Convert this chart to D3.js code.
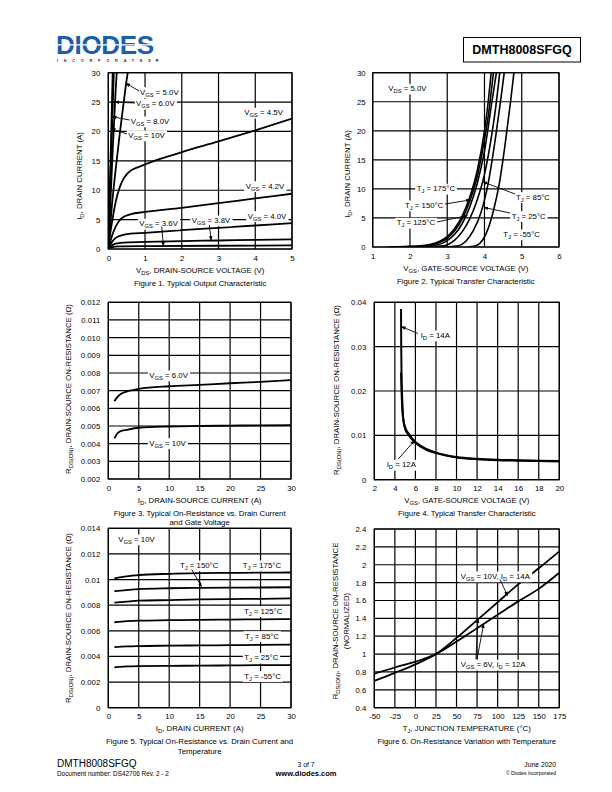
<!DOCTYPE html>
<html><head><meta charset="utf-8">
<script src="https://cdn.jsdelivr.net/npm/d3@7/dist/d3.min.js"></script>
<style>body{margin:0;background:#fff}</style>
</head><body>
<svg id="c" width="612" height="792" xmlns="http://www.w3.org/2000/svg"></svg>
<script>
// ---------------- DATA ----------------
// Figure 1: Output characteristic  (VDS [V], ID [A])
const f1Ticks_x = [0,1,2,3,4,5];
const f1Ticks_y = [0,5,10,15,20,25,30];
const f1_vgs10 = [[0,0],[0.06,15],[0.12,30]];
const f1_vgs8  = [[0,0],[0.075,15],[0.15,30]];
const f1_vgs6  = [[0,0],[0.1,14],[0.2,27],[0.23,30]];
const f1_vgs5  = [[0,0],[0.1,7.5],[0.2,13.5],[0.3,19],[0.4,24],[0.5,28.8],[0.53,30]];
const f1_vgs45 = [[0,0],[0.05,2.5],[0.1,4.5],[0.2,8],[0.3,10.3],[0.4,11.8],[0.5,12.7],[0.6,13.3],[0.8,13.9],[1,14.4],[1.5,15.5],[2,16.5],[3,18.3],[4,20.2],[5,22.2]];
const f1_vgs42 = [[0,0],[0.1,2.2],[0.2,3.8],[0.3,4.8],[0.4,5.4],[0.6,5.9],[1,6.3],[2,7.0],[3,7.8],[4,8.6],[5,9.4]];
const f1_vgs40 = [[0,0],[0.1,1.2],[0.2,1.9],[0.4,2.4],[0.6,2.6],[1,2.75],[2,3.2],[3,3.6],[4,4.0],[5,4.4]];
const f1_vgs38 = [[0,0],[0.1,0.6],[0.2,0.9],[0.4,1.1],[1,1.2],[2,1.35],[3,1.45],[4,1.55],[5,1.65]];
const f1_vgs36 = [[0,0],[0.1,0.3],[0.3,0.45],[1,0.5],[3,0.55],[5,0.6]];

// Figure 2: Transfer characteristic (VGS [V], ID [A])
const f2Ticks_x = [1,2,3,4,5,6];
const f2Ticks_y = [0,5,10,15,20,25,30];
const f2_t175 = [[1.4,0.02],[2.0,0.1],[2.5,0.4],[2.8,1],[3.0,1.8],[3.2,3.2],[3.4,5.3],[3.6,8.5],[3.8,13],[4.0,20],[4.1,25],[4.18,30]];
const f2_t150 = [[1.8,0.02],[2.4,0.2],[2.8,0.8],[3.0,1.5],[3.2,2.8],[3.4,4.8],[3.6,7.8],[3.8,12],[4.0,18.5],[4.1,22.5],[4.24,30]];
const f2_t125 = [[2.2,0.02],[2.6,0.2],[3.0,1.1],[3.2,2.2],[3.4,4],[3.6,6.8],[3.8,10.8],[4.0,16.5],[4.2,25],[4.32,30]];
const f2_t85  = [[2.5,0.02],[2.9,0.2],[3.2,1.2],[3.4,2.6],[3.6,4.8],[3.8,8],[4.0,12.5],[4.2,19.5],[4.3,24],[4.41,30]];
const f2_t25  = [[3.0,0.02],[3.3,0.2],[3.5,1],[3.7,2.8],[3.9,5.8],[4.1,11],[4.3,19],[4.45,26],[4.53,30]];
const f2_tm55 = [[3.6,0.02],[3.8,0.3],[3.95,1.2],[4.1,3.2],[4.25,6.5],[4.4,11],[4.55,17.5],[4.7,25],[4.79,30]];

// Figure 3: RDS(on) vs ID and VGS
const f3Ticks_x = [0,5,10,15,20,25,30];
const f3Ticks_y = [0.002,0.003,0.004,0.005,0.006,0.007,0.008,0.009,0.010,0.011,0.012];
const f3_vgs6  = [[1,0.0064],[1.5,0.00665],[2,0.0068],[3,0.00695],[4,0.00703],[5,0.0071],[10,0.00725],[15,0.00733],[20,0.00742],[25,0.0075],[30,0.0076]];
const f3_vgs10 = [[1,0.0043],[1.5,0.00458],[2,0.0047],[3,0.00478],[5,0.0049],[10,0.00497],[15,0.005],[20,0.00502],[25,0.00504],[30,0.00505]];

// Figure 4: RDS(on) vs VGS
const f4Ticks_x = [2,4,6,8,10,12,14,16,18,20];
const f4Ticks_y = [0,0.01,0.02,0.03,0.04];
const f4_id14 = [[4.6,0.0385],[4.62,0.03],[4.65,0.024],[4.72,0.018],[4.82,0.0138],[5.0,0.0118],[5.3,0.0105],[6,0.0085],[7,0.007],[8,0.0061],[9,0.0055],[10,0.0051],[12,0.0047],[14,0.0045],[16,0.0044],[18,0.0043],[20,0.0042]];
const f4_id12 = [[4.6,0.0242],[4.65,0.02],[4.72,0.016],[4.82,0.0135],[5.0,0.0115],[5.3,0.0102],[6,0.0083],[7,0.0068],[8,0.006],[10,0.005],[12,0.0046],[14,0.0044],[16,0.0043],[18,0.0042],[20,0.0041]];

// Figure 5: RDS(on) vs ID and temperature
const f5Ticks_x = [0,5,10,15,20,25,30];
const f5Ticks_y = [0,0.002,0.004,0.006,0.008,0.01,0.012,0.014];
const f5_t175 = [[1,0.0101],[3,0.01025],[5,0.01035],[10,0.01045],[15,0.0105],[20,0.01052],[25,0.01054],[30,0.01055]];
const f5_t150 = [[1,0.0091],[3,0.00918],[5,0.00925],[10,0.00932],[15,0.00935],[20,0.00937],[25,0.00938],[30,0.0094]];
const f5_t125 = [[1,0.0082],[3,0.00828],[5,0.00835],[10,0.0084],[15,0.00845],[20,0.00848],[25,0.0085],[30,0.00853]];
const f5_t85  = [[1,0.00667],[3,0.00675],[5,0.0068],[10,0.00683],[15,0.00686],[20,0.00688],[25,0.0069],[30,0.00692]];
const f5_t25  = [[1,0.00472],[3,0.00478],[5,0.00481],[10,0.00484],[15,0.00486],[20,0.00488],[25,0.0049],[30,0.00492]];
const f5_tm55 = [[1,0.00315],[3,0.00322],[5,0.00325],[10,0.00327],[15,0.00328],[20,0.0033],[25,0.00332],[30,0.00333]];

// Figure 6: normalized RDS(on) vs TJ
const f6Ticks_x = [-50,-25,0,25,50,75,100,125,150,175];
const f6Ticks_y = [0.4,0.6,0.8,1,1.2,1.4,1.6,1.8,2,2.2,2.4];
const f6_vgs10 = [[-50,0.7],[-25,0.79],[0,0.885],[25,1.0],[50,1.18],[75,1.38],[100,1.58],[125,1.78],[150,1.96],[175,2.15]];
const f6_vgs6  = [[-50,0.78],[-25,0.85],[0,0.915],[25,1.0],[50,1.14],[75,1.29],[100,1.44],[125,1.59],[150,1.73],[175,1.91]];

// ---------------- DRAWING ----------------
const FONT = "'Liberation Sans', Arial, Helvetica, sans-serif";
const FS = 7.8;
const svg = d3.select("#c").attr("font-family", FONT);
const defs = svg.append("defs");
defs.append("marker").attr("id","arr").attr("viewBox","0 0 10 10").attr("refX",9).attr("refY",5)
  .attr("markerWidth",5).attr("markerHeight",5).attr("orient","auto-start-reverse")
  .append("path").attr("d","M0,1 L10,5 L0,9 z").attr("fill","#000");

function rich(t, str, size) {
  const parts = str.split(/(_\{[^}]*\})/).filter(p => p.length);
  let shifted = false;
  parts.forEach(p => {
    const m = p.match(/^_\{([^}]*)\}$/);
    if (m) {
      t.append("tspan").attr("font-size", size*0.75).attr("dy", size*0.28).text(m[1]);
      shifted = true;
    } else {
      const ts = t.append("tspan").text(p);
      if (shifted) { ts.attr("dy", -size*0.28); shifted = false; }
    }
  });
  return t;
}

let clipN = 0;
function panel(o) {
  const x = d3.scaleLinear().domain(o.xd).range([o.l, o.r]);
  const y = d3.scaleLinear().domain(o.yd).range([o.b, o.t]);
  const g = svg.append("g");
  const id = "clip" + (clipN++);
  defs.append("clipPath").attr("id", id).append("rect")
    .attr("x", o.l).attr("y", o.t).attr("width", o.r - o.l).attr("height", o.b - o.t);
  g.append("g").selectAll("line").data(o.xt).join("line")
    .attr("x1", d => x(d)).attr("x2", d => x(d)).attr("y1", o.t).attr("y2", o.b)
    .attr("stroke", "#000").attr("stroke-width", 1.2);
  g.append("g").selectAll("line").data(o.yt).join("line")
    .attr("y1", d => y(d)).attr("y2", d => y(d)).attr("x1", o.l).attr("x2", o.r)
    .attr("stroke", "#000").attr("stroke-width", 1.2);
  g.append("rect").attr("x", o.l).attr("y", o.t).attr("width", o.r - o.l).attr("height", o.b - o.t)
    .attr("fill", "none").attr("stroke", "#000").attr("stroke-width", 1.2);
  const ax = g.append("g").attr("transform", `translate(0,${o.b})`)
    .call(d3.axisBottom(x).tickValues(o.xt).tickSize(0).tickPadding(6).tickFormat(o.xf || (d => d)));
  ax.select(".domain").remove();
  ax.selectAll("text").attr("font-size", FS).attr("font-family", FONT);
  const ay = g.append("g").attr("transform", `translate(${o.l},0)`)
    .call(d3.axisLeft(y).tickValues(o.yt).tickSize(0).tickPadding(o.yp || 8).tickFormat(o.yf || (d => d)));
  ay.select(".domain").remove();
  ay.selectAll("text").attr("font-size", FS).attr("font-family", FONT);
  rich(g.append("text").attr("x", (o.l + o.r) / 2).attr("y", o.b + 23.5).attr("text-anchor", "middle").attr("font-size", FS), o.xtitle, FS);
  o.ytitle.forEach((s, i) => {
    const cx = o.ytx[i], cy = o.yty;
    rich(g.append("text").attr("transform", `translate(${cx},${cy}) rotate(-90)`).attr("text-anchor", "middle").attr("font-size", FS), s, FS);
  });
  o.caption.forEach((s, i) => {
    g.append("text").attr("x", (o.l + o.r) / 2).attr("y", o.b + 36.5 + i * 9.5).attr("text-anchor", "middle")
      .attr("font-size", FS).text(s);
  });
  const plot = g.append("g").attr("clip-path", `url(#${id})`);
  const line = d3.line().x(d => x(d[0])).y(d => y(d[1])).curve(d3.curveMonotoneX);
  return { x, y, g, plot, line };
}

function curves(p, arr, w, color) {
  p.plot.selectAll(null).data(arr).join("path")
    .attr("d", d => p.line(d)).attr("fill", "none").attr("stroke", color || "#000")
    .attr("stroke-width", w || 1.8).attr("stroke-linejoin", "round");
}

function label(p, x, y, str, bg = true) {
  const t = p.g.append("text").attr("x", x).attr("y", y + 2.8).attr("font-size", FS);
  rich(t, str, FS);
  if (bg) {
    const bb = t.node().getBBox();
    p.g.insert("rect", () => t.node()).attr("x", bb.x - 1.5).attr("y", bb.y - 0.3)
      .attr("width", bb.width + 3).attr("height", bb.height + 0.6).attr("fill", "#fff");
  }
  return t;
}
function arrow(p, x1, y1, x2, y2) {
  p.g.append("line").attr("x1", x1).attr("y1", y1).attr("x2", x2).attr("y2", y2)
    .attr("stroke", "#000").attr("stroke-width", 0.9).attr("marker-end", "url(#arr)");
}

// ---- Figure 1
const p1 = panel({ l: 108.3, r: 292, t: 72.7, b: 249, xd: [0, 5], yd: [0, 30], xt: f1Ticks_x, yt: f1Ticks_y,
  xtitle: "V_{DS}, DRAIN-SOURCE VOLTAGE (V)", ytitle: ["I_{D}, DRAIN CURRENT (A)"], ytx: [82], yty: 176,
  caption: ["Figure 1. Typical Output Characteristic"] });
curves(p1, [f1_vgs10, f1_vgs8, f1_vgs6, f1_vgs5, f1_vgs45, f1_vgs42, f1_vgs40, f1_vgs38, f1_vgs36]);
label(p1, 140, 91.7, "V_{GS} = 5.0V"); arrow(p1, 139, 91, p1.x(0.48), p1.y(28.2));
label(p1, 136, 103.3, "V_{GS} = 6.0V"); arrow(p1, 135, 103, p1.x(0.19), p1.y(25));
label(p1, 130.7, 121, "V_{GS} = 8.0V"); arrow(p1, 129.5, 120, p1.x(0.115), p1.y(22.5));
label(p1, 128.3, 135, "V_{GS} = 10V"); arrow(p1, 127, 134, p1.x(0.085), p1.y(20.5));
label(p1, 244.3, 112.3, "V_{GS} = 4.5V");
label(p1, 245.7, 185.7, "V_{GS} = 4.2V");
label(p1, 247.7, 215.7, "V_{GS} = 4.0V");
label(p1, 191.7, 220, "V_{GS} = 3.8V"); arrow(p1, 209.3, 225, p1.x(2.8), p1.y(1.5));
label(p1, 139.3, 223.3, "V_{GS} = 3.6V"); arrow(p1, 161.7, 226.5, p1.x(1.5), p1.y(0.52));

// ---- Figure 2
const p2 = panel({ l: 372.7, r: 559, t: 72.7, b: 247, xd: [1, 6], yd: [0, 30], xt: f2Ticks_x, yt: f2Ticks_y, yp: 7,
  xtitle: "V_{GS}, GATE-SOURCE VOLTAGE (V)", ytitle: ["I_{D}, DRAIN CURRENT (A)"], ytx: [349.5], yty: 174,
  caption: ["Figure 2. Typical Transfer Characteristic"] });
curves(p2, [f2_t175, f2_t150, f2_t125, f2_t85, f2_t25, f2_tm55], 1.6);
label(p2, 388.3, 88.3, "V_{DS} = 5.0V");
label(p2, 416.7, 188.3, "T_{J} = 175°C");
label(p2, 405, 205, "T_{J} = 150°C"); arrow(p2, 445, 204, p2.x(3.62), p2.y(8.1));
label(p2, 396.7, 222.3, "T_{J} = 125°C"); arrow(p2, 437, 222, p2.x(3.54), p2.y(5.4));
label(p2, 516, 196.7, "T_{J} = 85°C"); arrow(p2, 515, 194, p2.x(3.96), p2.y(11.2));
label(p2, 511.7, 215.7, "T_{J} = 25°C"); arrow(p2, 510, 213, p2.x(3.99), p2.y(6.8));
label(p2, 503.3, 234, "T_{J} = -55°C");

// ---- Figure 3
const p3 = panel({ l: 108.3, r: 291, t: 302.3, b: 479, xd: [0, 30], yd: [0.002, 0.012], xt: f3Ticks_x, yt: f3Ticks_y,
  yf: d3.format(".3f"),
  xtitle: "I_{D}, DRAIN-SOURCE CURRENT (A)", ytitle: ["R_{DS(ON)}, DRAIN-SOURCE ON-RESISTANCE (Ω)"], ytx: [71], yty: 389,
  caption: ["Figure 3. Typical On-Resistance vs. Drain Current", "and Gate Voltage"] });
curves(p3, [f3_vgs6, f3_vgs10]);
label(p3, 149.3, 375, "V_{GS} = 6.0V");
label(p3, 149.3, 442.7, "V_{GS} = 10V");

// ---- Figure 4
const p4 = panel({ l: 374.3, r: 559.3, t: 302.3, b: 479.7, xd: [2, 20], yd: [0, 0.04], xt: f4Ticks_x, yt: f4Ticks_y,
  yf: d => d === 0 ? "0" : d3.format(".2f")(d),
  xtitle: "V_{GS}, GATE-SOURCE VOLTAGE (V)", ytitle: ["R_{DS(ON)}, DRAIN-SOURCE ON-RESISTANCE (Ω)"], ytx: [339], yty: 390,
  caption: ["Figure 4. Typical Transfer Characteristic"] });
curves(p4, [f4_id14, f4_id12], 2);
label(p4, 420.7, 335, "I_{D} = 14A"); arrow(p4, 418, 333.5, p4.x(4.65), p4.y(0.0345));
label(p4, 386.7, 464.3, "I_{D} = 12A"); arrow(p4, 398.3, 459, p4.x(5.9), p4.y(0.0088));

// ---- Figure 5
const p5 = panel({ l: 108.3, r: 291, t: 528.3, b: 707.7, xd: [0, 30], yd: [0, 0.014], xt: f5Ticks_x, yt: f5Ticks_y,
  yf: d => d === 0 ? "0" : String(+d.toFixed(3)),
  xtitle: "I_{D}, DRAIN CURRENT (A)", ytitle: ["R_{DS(ON)}, DRAIN-SOURCE ON-RESISTANCE (Ω)"], ytx: [71], yty: 618,
  caption: ["Figure 5. Typical On-Resistance vs. Drain Current and", "Temperature"] });
curves(p5, [f5_t175, f5_t150, f5_t125, f5_t85, f5_t25, f5_tm55]);
label(p5, 118.3, 539, "V_{GS} = 10V");
label(p5, 180, 565, "T_{J} = 150°C"); arrow(p5, 191.7, 569.5, p5.x(15.3), p5.y(0.00945));
label(p5, 242.7, 565, "T_{J} = 175°C");
label(p5, 244, 610.7, "T_{J} = 125°C");
label(p5, 245, 635.7, "T_{J} = 85°C");
label(p5, 244.3, 657.3, "T_{J} = 25°C");
label(p5, 244.3, 675.7, "T_{J} = -55°C");

// ---- Figure 6
const p6 = panel({ l: 374.3, r: 559.3, t: 529, b: 707.7, xd: [-50, 175], yd: [0.4, 2.4], xt: f6Ticks_x, yt: f6Ticks_y,
  yf: d => String(+d.toFixed(1)),
  xtitle: "T_{J}, JUNCTION TEMPERATURE (°C)", ytitle: ["R_{DS(ON)}, DRAIN-SOURCE ON-RESISTANCE", "(NORMALIZED)"], ytx: [338, 348.5], yty: 621,
  caption: ["Figure 6. On-Resistance Variation with Temperature"] });
curves(p6, [f6_vgs10, f6_vgs6]);
label(p6, 460.7, 576, "V_{GS} = 10V, I_{D} = 14A"); arrow(p6, 500, 579.5, p6.x(112), p6.y(1.655));
label(p6, 460.7, 664.3, "V_{GS} = 6V, I_{D} = 12A");
arrow(p6, 476, 659, p6.x(76), p6.y(1.39));
arrow(p6, 477, 659, p6.x(83), p6.y(1.335));

// ---------------- HEADER / FOOTER ----------------
const hdr = svg.append("g");
hdr.append("text").attr("x", 56).attr("y", 54).attr("font-size", 26).attr("font-weight", "bold")
  .attr("fill", "#1b5fa9").attr("letter-spacing", -0.3).text("DIODES");
hdr.append("rect").attr("x", 55).attr("y", 44.2).attr("width", 106).attr("height", 1.3).attr("fill", "#fff");
hdr.append("text").attr("x", 57).attr("y", 61.5).attr("font-size", 3.8).attr("font-weight", "bold").attr("fill", "#333")
  .attr("textLength", 94).attr("lengthAdjust", "spacing").text("INCORPORATED");
hdr.append("circle").attr("cx", 157).attr("cy", 60.3).attr("r", 1.3).attr("fill", "#1b5fa9");
hdr.append("rect").attr("x", 463.5).attr("y", 37.5).attr("width", 117).attr("height", 24.5)
  .attr("fill", "none").attr("stroke", "#000").attr("stroke-width", 1);
hdr.append("text").attr("x", 522).attr("y", 54).attr("text-anchor", "middle").attr("font-size", 12.5)
  .attr("font-weight", "bold").text("DMTH8008SFGQ");

const ftr = svg.append("g");
ftr.append("text").attr("x", 57).attr("y", 767).attr("font-size", 10).text("DMTH8008SFGQ");
ftr.append("text").attr("x", 57).attr("y", 775.5).attr("font-size", 6.4).text("Document number: DS42706  Rev. 2 - 2");
ftr.append("text").attr("x", 306).attr("y", 766.5).attr("text-anchor", "middle").attr("font-size", 6.8).text("3 of 7");
ftr.append("text").attr("x", 306).attr("y", 775.5).attr("text-anchor", "middle").attr("font-size", 7.5).attr("font-weight", "bold").text("www.diodes.com");
ftr.append("text").attr("x", 556).attr("y", 766.5).attr("text-anchor", "end").attr("font-size", 6.8).text("June 2020");
ftr.append("text").attr("x", 556).attr("y", 775).attr("text-anchor", "end").attr("font-size", 5).text("© Diodes Incorporated");
</script>
</body></html>
